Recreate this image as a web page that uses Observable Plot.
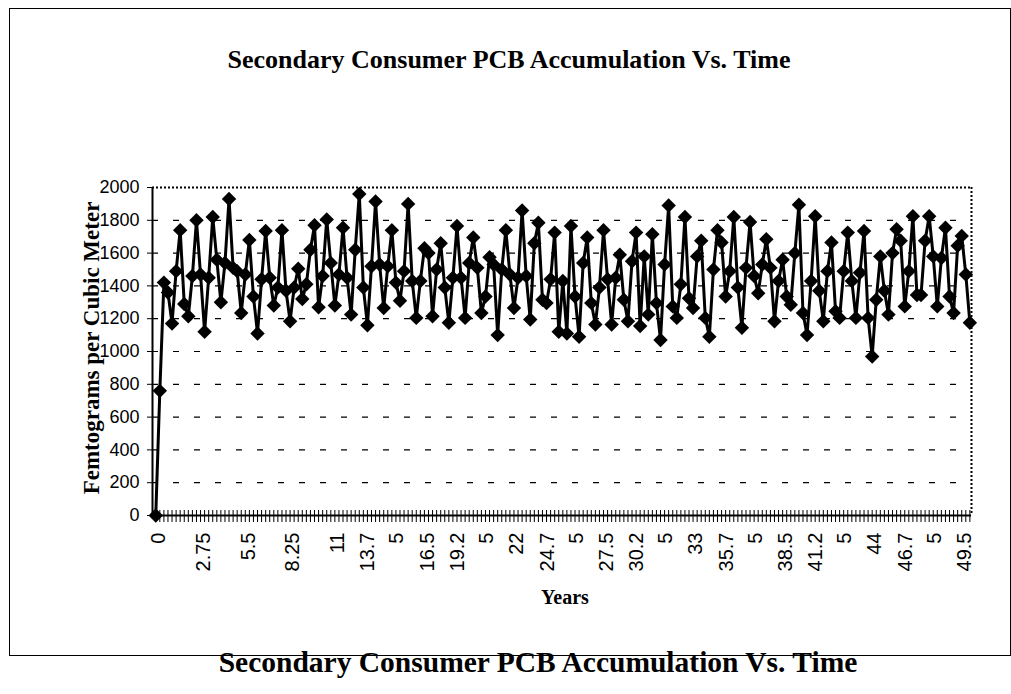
<!DOCTYPE html>
<html><head><meta charset="utf-8">
<script src="https://cdn.jsdelivr.net/npm/d3@7"></script>
<script src="https://cdn.jsdelivr.net/npm/@observablehq/plot@0.6"></script>
<style>
body{margin:0;background:#fff;}
#page{position:relative;width:1011px;height:694px;overflow:hidden;background:#fff;}
#box{position:absolute;left:9px;top:8px;width:1002px;height:648px;border:1.5px solid #000;box-sizing:border-box;}
.serif{font-family:"Liberation Serif","Times New Roman",serif;font-weight:bold;color:#000;line-height:1;white-space:nowrap;}
#title{position:absolute;top:47px;left:0;width:1018px;text-align:center;font-size:26px;}
#caption{position:absolute;top:648px;left:0;width:1076px;text-align:center;font-size:29.5px;}
#xlabel{position:absolute;top:587px;left:0;width:1130px;text-align:center;font-size:20px;}
#ylabel{position:absolute;left:91px;top:348px;font-size:23px;transform:translate(-50%,-50%) rotate(-90deg);}
#chart{position:absolute;left:0;top:0;}
</style>
</head><body>
<div id="page">
  <div id="box"></div>
  <div id="title" class="serif">Secondary Consumer PCB Accumulation Vs. Time</div>
  <div id="chart"></div>
  <div id="ylabel" class="serif">Femtograms per Cubic Meter</div>
  <div id="xlabel" class="serif">Years</div>
  <div id="caption" class="serif">Secondary Consumer PCB Accumulation Vs. Time</div>
</div>
<script>
// PCB accumulation values (femtograms per cubic meter), one per quarter year, 0 .. 50 years
const values = [
  0, 760, 1420, 1360, 1170, 1490, 1740, 1290, 1215, 1460, 1800, 1470, 1120, 1450, 1820, 1560, 1300, 1540, 1930, 1510,
  1490, 1235, 1470, 1680, 1335, 1110, 1440, 1735, 1450, 1280, 1390, 1740, 1370, 1185, 1390, 1505, 1320, 1410, 1620, 1770, 1270,
  1460, 1805, 1540, 1280, 1470, 1755, 1450, 1225, 1620, 1960, 1390, 1160, 1520, 1915, 1530, 1265, 1520, 1740, 1420, 1310,
  1490, 1900, 1430, 1205, 1430, 1630, 1600, 1215, 1500, 1660, 1390, 1175, 1450, 1765, 1450, 1205, 1540, 1695, 1510, 1235,
  1335, 1575, 1530, 1100, 1500, 1740, 1470, 1265, 1450, 1860, 1460, 1195, 1660, 1785, 1315, 1295, 1440, 1725, 1120, 1430,
  1110, 1765, 1335, 1090, 1540, 1695, 1295, 1165, 1390, 1740, 1440, 1165, 1450, 1590, 1315, 1185, 1550, 1725, 1155, 1580,
  1225, 1715, 1295, 1070, 1530, 1890, 1275, 1205, 1410, 1820, 1325, 1265, 1580, 1675, 1205, 1090, 1500, 1740, 1665, 1335,
  1490, 1820, 1390, 1145, 1510, 1790, 1460, 1355, 1530, 1685, 1510, 1185, 1430, 1560, 1335, 1285, 1600, 1895, 1235, 1100, 1430,
  1825, 1370, 1185, 1490, 1665, 1245, 1205, 1490, 1725, 1430, 1205, 1480, 1735, 1205, 970, 1315, 1580, 1370, 1225, 1600,
  1745, 1675, 1275, 1490, 1825, 1345, 1345, 1675, 1825, 1580, 1275, 1570, 1755, 1335, 1235, 1645, 1705, 1470, 1175
];
const yearStep = 0.25;
const years = values.map((v, i) => i * yearStep);

const xTickValues = [0, 2.75, 5.5, 8.25, 11, 13.75, 16.5, 19.25, 22, 24.75, 27.5, 30.25, 33, 35.75, 38.5, 41.25, 44, 46.75, 49.5];
const xTickLabels = ["0", "2.75", "5.5", "8.25", "11", "13.7\n5", "16.5", "19.2\n5", "22", "24.7\n5", "27.5", "30.2\n5", "33", "35.7\n5", "38.5", "41.2\n5", "44", "46.7\n5", "49.5"];
const yTicks = [0, 200, 400, 600, 800, 1000, 1200, 1400, 1600, 1800, 2000];
const gridValues = [200, 400, 600, 800, 1000, 1200, 1400, 1600, 1800];

const xDomain = [-0.2, 50.1];
const yDomain = [0, 2000];

const data = values.map((v, i) => ({year: years[i], value: v}));
const labelMap = new Map(xTickValues.map((d, i) => [d, xTickLabels[i]]));

const chart = Plot.plot({
  width: 1011,
  height: 640,
  marginLeft: 152,
  marginRight: 40,
  marginTop: 187,
  marginBottom: 125,
  style: {background: "transparent", fontFamily: "'Liberation Sans', Arial, sans-serif", fontSize: "20px", color: "#000"},
  x: {domain: xDomain},
  y: {domain: yDomain},
  marks: [
    Plot.gridY(gridValues, {stroke: "#000", strokeOpacity: 1, strokeDasharray: "6,15", strokeWidth: 1.2}),
    Plot.ruleY([yDomain[1]], {stroke: "#000", strokeDasharray: "2,2", strokeWidth: 2}),
    Plot.ruleX([xDomain[1]], {stroke: "#000", strokeDasharray: "2,2", strokeWidth: 2}),
    Plot.axisY({ticks: yTicks, tickSize: 5, tickPadding: 8, tickFormat: d => String(d), fontSize: 18, label: null}),
    Plot.axisX({ticks: years, tickSize: 12, dy: -5, tickFormat: () => "", label: null}),
    Plot.axisX({ticks: xTickValues, tickFormat: d => labelMap.get(d), tickSize: 0, tickPadding: 17, tickRotate: -90, lineHeight: 1.45, label: null}),
    Plot.ruleY([yDomain[0]], {stroke: "#000", strokeWidth: 2}),
    Plot.ruleX([xDomain[0]], {stroke: "#000", strokeWidth: 2}),
    Plot.line(data, {x: "year", y: "value", stroke: "#000", strokeWidth: 3}),
    Plot.dot(data, {x: "year", y: "value", symbol: "diamond2", fill: "#000", stroke: null, r: 6.5})
  ]
});
document.getElementById("chart").append(chart);
</script>
</body></html>
